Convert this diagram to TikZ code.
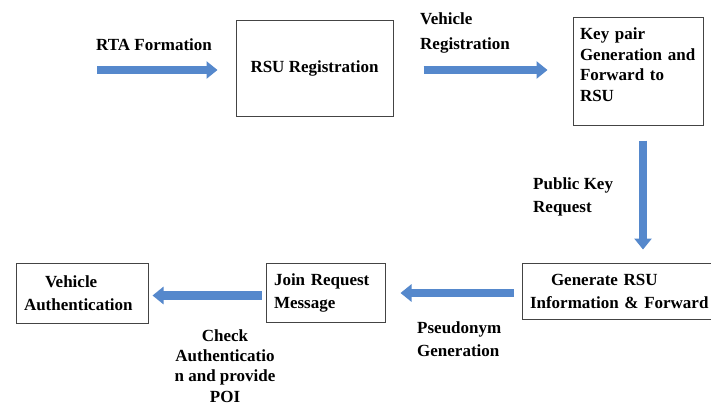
\documentclass[tikz,border=0pt]{standalone}
\usepackage{fontspec}
\setmainfont{Liberation Serif}
\usepackage{tikz}
\usetikzlibrary{arrows.meta,positioning,calc}
\definecolor{fblue}{HTML}{5588CC}
\definecolor{fedge}{HTML}{444444}
\tikzset{
  box/.style={draw=fedge,fill=white,line width=1pt,align=left,font=\bfseries\fontsize{17}{21}\selectfont,inner sep=0pt},
  lbl/.style={align=left,font=\bfseries\fontsize{17}{23}\selectfont,inner sep=0pt},
  fatarr/.style={-{Triangle[length=11pt,width=17pt]},line width=8.5pt,draw=fblue},
}
\begin{document}
\begin{tikzpicture}[x=1pt,y=-1pt]
  \clip (0,0) rectangle (711,405);
  \fill[white] (0,0) rectangle (711,405);
  % top row
  \node[box,minimum width=157pt,minimum height=96pt,align=center] (rsu) at (314.5,68) {RSU Registration};
  \node[box,minimum width=130pt,minimum height=108pt,text width=116pt,font=\bfseries\fontsize{17}{20.7}\selectfont] (key) at (638,71) {Key pair\\Generation and\\Forward to\\RSU\\[-8pt]\mbox{}};
  \node[lbl,anchor=west] (rta) at (96,45) {RTA Formation};
  \node[lbl,anchor=west,font=\bfseries\fontsize{17}{25}\selectfont] (vreg) at (420,33) {Vehicle\\Registration};
  \coordinate (rtastart) at (97,70);
  % right side
  \node[lbl,anchor=west] (pkr) at (533,196.5) {Public Key\\Request};
  \node[box,minimum width=200pt,minimum height=56pt,text width=184pt,font=\bfseries\fontsize{17}{23}\selectfont] (gen) at (622,291) {\hspace*{21pt}Generate RSU\\Information \& Forward};
  % bottom row
  \node[box,minimum width=119pt,minimum height=59pt,text width=103pt,font=\bfseries\fontsize{17}{23}\selectfont] (join) at (325.5,292.5) {Join Request\\Message};
  \node[box,minimum width=132pt,minimum height=60pt,text width=116pt,font=\bfseries\fontsize{17}{23}\selectfont] (auth) at (82,293) {\hspace*{21pt}Vehicle\\Authentication};
  \node[lbl,anchor=west] (pseu) at (417,339.5) {Pseudonym\\Generation};
  \node[lbl,align=center,font=\bfseries\fontsize{17}{20.3}\selectfont] (chk) at (225,366) {Check\\Authenticatio\\n and provide\\POI};
  % arrows
  \draw[fatarr,shorten >=18pt] (rtastart) -- (rtastart -| rsu.west);
  \draw[fatarr,shorten <=30pt,shorten >=25pt] ([yshift=-2pt]rsu.east) -- ([yshift=-2pt]rsu.east -| key.west);
  \draw[fatarr,shorten <=15pt,shorten >=13pt] ([xshift=5pt]key.south) -- ([xshift=5pt]key.south |- gen.north);
  \draw[fatarr,shorten <=8pt,shorten >=15pt] ([yshift=-2pt]gen.west) -- ([yshift=-2pt]gen.west -| join.east);
  \draw[fatarr,shorten <=4pt,shorten >=4pt] ([yshift=-3pt]join.west) -- ([yshift=-3pt]join.west -| auth.east);
\end{tikzpicture}
\end{document}
